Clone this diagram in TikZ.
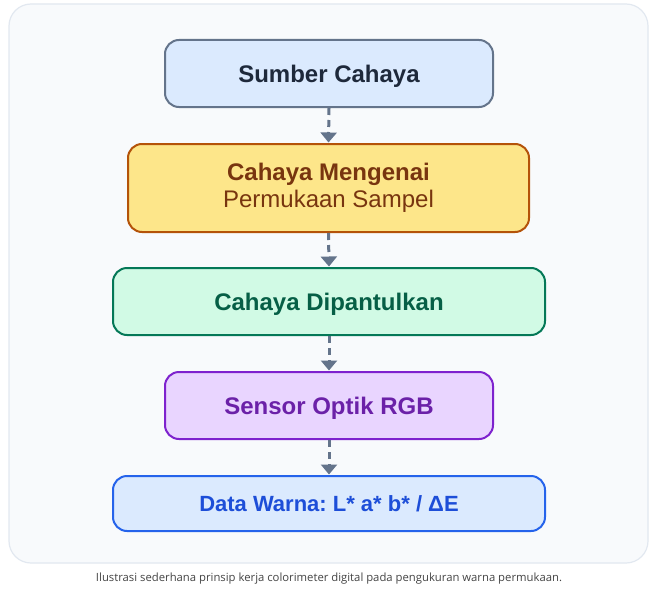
\documentclass[tikz,border=0pt]{standalone}
\usepackage{fontspec}
\setmainfont{Liberation Sans}
\newfontfamily\capfont{Open Sans}
\usetikzlibrary{arrows.meta}
\definecolor{panelfill}{HTML}{F8FAFC}
\definecolor{paneldraw}{HTML}{E2E8F0}
\definecolor{arrowc}{HTML}{64748B}
\definecolor{fA}{HTML}{DBEAFE}\definecolor{dA}{HTML}{64748B}\definecolor{tA}{HTML}{1E293B}
\definecolor{fB}{HTML}{FDE68A}\definecolor{dB}{HTML}{B45309}\definecolor{tB}{HTML}{78350F}
\definecolor{fC}{HTML}{D1FAE5}\definecolor{dC}{HTML}{047857}\definecolor{tC}{HTML}{065F46}
\definecolor{fD}{HTML}{E9D5FF}\definecolor{dD}{HTML}{7E22CE}\definecolor{tD}{HTML}{6B21A8}
\definecolor{fE}{HTML}{DBEAFE}\definecolor{dE}{HTML}{2563EB}\definecolor{tE}{HTML}{1D4ED8}
\definecolor{capc}{HTML}{444444}
\tikzset{
  flowbox/.style={rounded corners=14pt, line width=2pt, inner sep=0pt, align=center,
    font=\frenchspacing\fontsize{24}{28}\selectfont},
  oneline/.style={text height=20pt, text depth=3pt},
  flowarrow/.style={draw=arrowc, line width=3pt, dash pattern=on 7pt off 5pt,
    -{Triangle[length=10pt,width=16pt]}, shorten >=0.5pt},
}
\begin{document}
\begin{tikzpicture}[x=1pt,y=-1pt]
\useasboundingbox (0,0) rectangle (658,594);
\fill[white] (0,0) rectangle (658,594);
\draw[fill=panelfill, draw=paneldraw, line width=1.2pt, rounded corners=22pt] (9,4) rectangle (648,563);
\node[flowbox, oneline, fill=fA, draw=dA, text=tA, minimum width=328pt, minimum height=67pt] (a) at (329,73.5) {\bfseries Sumber Cahaya};
\node[flowbox, fill=fB, draw=dB, text=tB, minimum width=401pt, minimum height=88pt] (b) at (328.5,188) {\bfseries Cahaya Mengenai\\[-1pt] Permukaan Sampel};
\node[flowbox, oneline, fill=fC, draw=dC, text=tC, minimum width=432pt, minimum height=67pt] (c) at (329,301.5) {\bfseries Cahaya Dipantulkan};
\node[flowbox, oneline, fill=fD, draw=dD, text=tD, minimum width=328pt, minimum height=67pt] (d) at (329,405.5) {\bfseries Sensor Optik RGB};
\node[flowbox, fill=fE, draw=dE, text=tE, minimum width=432pt, minimum height=55pt,
  font=\frenchspacing\fontsize{22}{26}\selectfont, text height=18pt, text depth=3pt] (e) at (329,503.5) {\bfseries Data Warna: L* a* b* / ΔE};
\draw[flowarrow] (a.south) -- (b.north);
\draw[flowarrow] (b.south) -- (c.north);
\draw[flowarrow] (c.south) -- (d.north);
\draw[flowarrow] (d.south) -- (e.north);
\node[text=capc, font=\capfont\fontsize{11.3}{13}\selectfont, inner sep=0pt] (cap) at (329,578.5) {Ilustrasi sederhana prinsip kerja colorimeter digital pada pengukuran warna permukaan.};
\end{tikzpicture}
\end{document}
